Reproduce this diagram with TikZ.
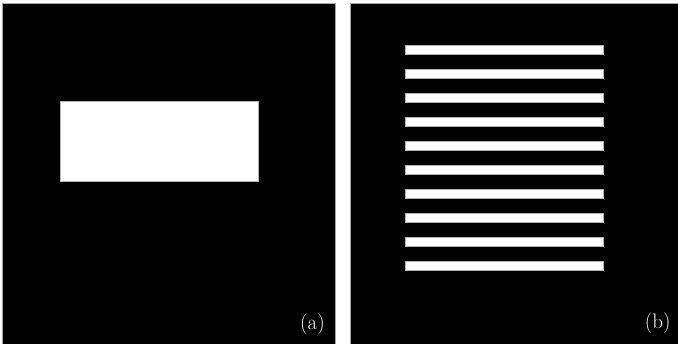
\documentclass[tikz,border=0pt]{standalone}
\begin{document}
\begin{tikzpicture}[x=1pt,y=-1pt,
  panel/.style={fill=black,draw=gray!70,line width=0.6pt},
  whitebox/.style={fill=white,draw=gray!60,line width=0.4pt},
  lbl/.style={text=white,font=\fontsize{21}{21}\selectfont,inner sep=0pt}]
\useasboundingbox (0,0) rectangle (678,344);
\fill[white] (0,0) rectangle (678,344);
% left panel
\draw[panel] (2.7,3) rectangle (335.5,344);
\draw[whitebox] (60,101) rectangle (257.7,181);
\node[lbl] (la) at (312.5,324.5) {(a)};
% right panel
\draw[panel] (350,3) rectangle (678,344);
\foreach \i in {0,...,9}{
  \draw[whitebox] (405,45.3+24*\i) rectangle (602.7,53.8+24*\i);
}
\node[lbl] (lb) at (657.7,323.5) {(b)};
\end{tikzpicture}
\end{document}
